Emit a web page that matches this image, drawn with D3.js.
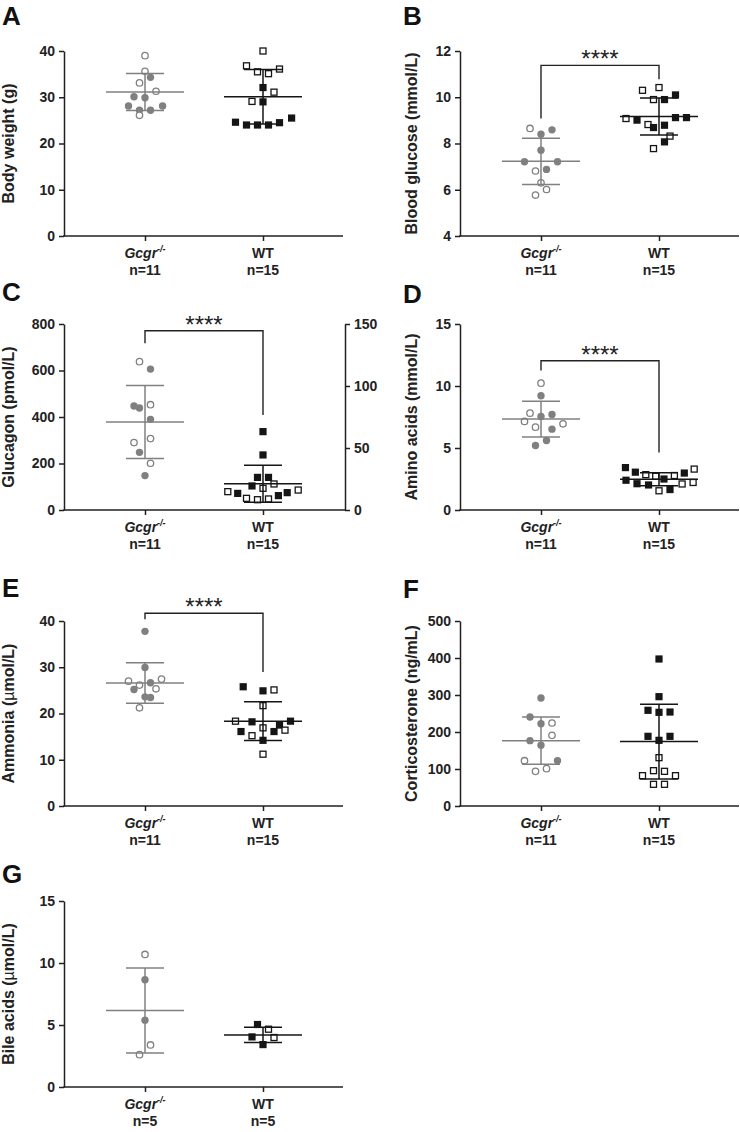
<!DOCTYPE html>
<html><head><meta charset="utf-8">
<script src="https://cdn.jsdelivr.net/npm/d3@7"></script>
<style>
body{margin:0;background:#fff}
svg{display:block}
text{font-family:"Liberation Sans",Arial,Helvetica,sans-serif}
</style>
</head><body>
<svg id="chart" width="740" height="1132"></svg>
<script>
// ---------- DATA ----------
// groups (x categories)
const groups = ["Gcgr", "WT"];
const nLabels = ["n=11", "n=15"];
const nLabelsBile = ["n=5", "n=5"];

// each point: [value, column slot, filled (1) / open (0)]
// A: Body weight (g)
const bodyWeightTicks = [0, 10, 20, 30, 40];
const bodyWeightKO = [[39.0,0,0],[35.6,0,0],[34.3,0.5,1],[33.1,-0.5,0],[30.1,-1,1],[29.9,0,1],[31.3,1,0],[28.1,-1.5,1],[27.2,-0.5,1],[27.2,0.5,1],[28.1,1.6,1],[26.1,-0.5,0]];
const bodyWeightWT = [[40.0,0,0],[36.8,-1.5,0],[35.5,-0.5,0],[35.1,0.5,0],[36.1,1.5,0],[32.1,0,1],[31.1,1,0],[29.1,-1,0],[29.0,0,1],[24.6,-2.5,1],[24.0,-1.5,1],[24.0,-0.5,1],[24.0,0.5,1],[24.5,1.5,1],[25.5,2.6,1]];
const bodyWeightMeanSD = [[31.15, 4.0], [30.1, 5.9]];

// B: Blood glucose (mmol/L)
const glucoseTicks = [4, 6, 8, 10, 12];
const glucoseKO = [[8.65,-1,0],[8.40,0,1],[8.59,1,1],[7.71,0,1],[7.21,-1.5,1],[7.21,1.5,1],[6.88,0.5,1],[6.81,-0.5,0],[6.30,0,0],[5.77,-0.5,0],[6.01,0.5,0]];
const glucoseWT = [[10.30,-1.5,0],[10.42,0,0],[9.90,-0.5,0],[9.90,0.5,1],[10.10,1.5,1],[9.08,-3,0],[9.01,-2,1],[9.12,1.5,1],[9.12,2.5,1],[8.82,-1,0],[8.69,-0.5,1],[8.79,0.5,1],[8.32,1,0],[8.07,0.5,1],[7.78,-0.5,0]];
const glucoseMeanSD = [[7.23, 1.0], [9.17, 0.8]];
const glucoseBracket = [11.38, 9.08, 10.78]; // top, left end, right end

// C: Glucagon (pmol/L) — Gcgr-/- on left axis, WT on right axis
const glucagonTicks = [0, 200, 400, 600, 800];
const glucagonRightTicks = [0, 50, 100, 150];
const glucagonKO = [[638,-0.5,0],[606,0.5,1],[447,-1,1],[439,-0.5,1],[453,0.5,0],[390,0.5,1],[307,0.5,0],[290,-1,0],[248,-0.5,1],[201,0.5,0],[148,0,1]];
const glucagonWT = [[63.2,0,1],[44.4,0,1],[26.3,-0.5,1],[26.3,0.5,1],[19.4,-1,1],[21.0,1,0],[17.5,0,0],[14.8,-3.2,0],[13.4,-2.3,1],[9.4,-1.5,0],[8.3,-0.5,0],[8.9,0.5,0],[11.6,1.4,1],[14.0,2.2,1],[16.1,3.2,0]];
const glucagonMeanSD = [[378, 157], [21.2, 14.9]];
const glucagonBracket = [771, 717, 409];

// D: Amino acids (mmol/L)
const aminoTicks = [0, 5, 10, 15];
const aminoKO = [[10.23,0,0],[9.21,0,1],[7.81,-1,0],[7.54,0,1],[7.70,1,1],[7.14,-1.5,0],[6.95,2,0],[6.68,-0.5,0],[6.52,1,1],[5.60,0.5,1],[5.20,-0.5,1]];
const aminoWT = [[3.42,-3.05,1],[3.05,-2.15,1],[2.85,-1.2,0],[2.72,-0.3,0],[2.78,1.4,0],[2.98,2.3,1],[3.30,3.2,0],[2.40,-3,1],[2.12,-2,1],[2.02,-0.95,1],[2.50,0.45,1],[1.55,0,0],[1.65,1,1],[2.10,2.1,0],[2.22,3.1,0]];
const aminoMeanSD = [[7.33, 1.44], [2.48, 0.52]];
const aminoBracket = [12.04, 11.26, 4.63];

// E: Ammonia (µmol/L)
const ammoniaTicks = [0, 10, 20, 30, 40];
const ammoniaKO = [[37.76,0,1],[29.96,0,1],[27.0,-1.5,0],[26.14,-0.5,0],[26.64,0.5,1],[27.44,1.5,0],[25.2,-1,1],[25.34,1,0],[23.6,0,1],[23.47,0.5,1],[21.23,-0.5,0]];
const ammoniaWT = [[25.78,-1.8,1],[24.9,0,1],[25.1,1,0],[21.7,0,0],[18.34,-2.5,0],[18.2,-1,1],[17.5,1.5,1],[18.34,2.5,1],[16.9,0,0],[16.1,-2,1],[15.2,-1,0],[16.1,1,1],[16.4,2,0],[14.2,0,1],[11.2,0,0]];
const ammoniaMeanSD = [[26.6, 4.4], [18.34, 4.2]];
const ammoniaBracket = [41.66, 40.36, 29.0];

// F: Corticosterone (ng/mL)
const corticoTicks = [0, 100, 200, 300, 400, 500];
const corticoKO = [[291.9,0,1],[240.5,-1,1],[222.5,0,1],[224.3,1,0],[191,1,0],[176.6,-1,1],[164,0,1],[122.5,-1.5,0],[122.5,1.5,1],[93.7,-0.5,0],[100.9,0.5,0]];
const corticoWT = [[397.3,0,1],[295.5,0,1],[258.6,-1,1],[253.2,0,1],[254,1,1],[188.3,-1,1],[188.3,1,1],[177.5,0,1],[130.6,0,0],[95.5,-0.5,0],[93.7,0.5,0],[82,-1.5,0],[82,1.5,0],[58.6,-0.5,0],[58.6,0.5,0]];
const corticoMeanSD = [[176.6, 64], [174, 101]];

// G: Bile acids (µmol/L)
const bileTicks = [0, 5, 10, 15];
const bileKO = [[10.69,0,0],[8.65,0,1],[5.39,0,1],[3.39,0.5,0],[2.61,-0.5,0]];
const bileWT = [[5.04,-0.5,1],[4.66,0.5,0],[4.04,-1,1],[3.99,1,0],[3.42,0,1]];
const bileMeanSD = [[6.17, 3.43], [4.20, 0.61]];

// ---------- DRAWING ----------
const svg = d3.select("#chart");
const GRAY = "#808080", BLACK = "#151515", AXIS = "#231f20";
const SLOT = 11, R = 3.7, SQ = 7.2, MEANW = 39, CAPW = 19;

function styleAxis(a) {
  a.select(".domain").attr("stroke", AXIS).attr("stroke-width", 1.5);
  a.selectAll(".tick line").attr("stroke", AXIS).attr("stroke-width", 1.5);
  a.selectAll(".tick text").attr("font-size", 14).attr("font-weight", "bold").attr("fill", "#222")
    .attr("font-family", "Liberation Sans, Arial, sans-serif");
}

function drawPanel(c) {
  const g = svg.append("g");
  const x = d3.scalePoint().domain(groups).range([c.x0 + 81, c.x0 + 199]);
  const y = d3.scaleLinear().domain([c.ticks[0], c.ticks[c.ticks.length - 1]]).range([c.yBot, c.yTop]);
  const yW = c.rightTicks ? d3.scaleLinear().domain([0, c.rightTicks[c.rightTicks.length - 1]]).range([c.yBot, c.yTop]) : y;

  // panel letter
  g.append("text").attr("x", c.lx).attr("y", c.ly).text(c.letter)
    .attr("font-size", 26).attr("font-weight", "bold").attr("fill", "#111");

  // y axis
  const ya = g.append("g").attr("transform", `translate(${c.x0},0)`)
    .call(d3.axisLeft(y).tickValues(c.ticks).tickSize(5).tickSizeOuter(0).tickPadding(4));
  styleAxis(ya);

  if (c.rightTicks) {
    const ra = g.append("g").attr("transform", `translate(${c.x1},0)`)
      .call(d3.axisRight(yW).tickValues(c.rightTicks).tickSize(5).tickSizeOuter(0).tickPadding(4));
    styleAxis(ra);
  }

  // x axis
  g.append("line").attr("x1", c.x0 - 0.75).attr("x2", c.x1).attr("y1", c.yBot).attr("y2", c.yBot)
    .attr("stroke", AXIS).attr("stroke-width", 1.5);
  const xa = g.append("g").attr("transform", `translate(0,${c.yBot})`)
    .call(d3.axisBottom(x).tickSize(5).tickSizeOuter(0).tickFormat(""));
  xa.select(".domain").remove();
  xa.selectAll(".tick line").attr("stroke", AXIS).attr("stroke-width", 1.5);

  // category labels
  const kl = g.append("text").attr("x", x(groups[0])).attr("y", c.yBot + 22)
    .attr("text-anchor", "middle").attr("font-size", 14).attr("font-weight", "bold").attr("fill", "#222");
  kl.append("tspan").attr("font-style", "italic").text(groups[0]);
  kl.append("tspan").attr("font-size", 9).attr("dy", -6).attr("font-style", "italic").text("-/-");
  g.append("text").attr("x", x(groups[1])).attr("y", c.yBot + 22).attr("text-anchor", "middle")
    .attr("font-size", 14).attr("font-weight", "bold").attr("fill", "#222").text(groups[1]);
  c.n.forEach((t, i) => {
    g.append("text").attr("x", x(groups[i])).attr("y", c.yBot + 39).attr("text-anchor", "middle")
      .attr("font-size", 14).attr("font-weight", "bold").attr("fill", "#222").text(t);
  });

  // y label
  const yl = g.append("text").attr("transform", `translate(${c.ylx},${(c.yTop + c.yBot) / 2}) rotate(-90)`)
    .attr("text-anchor", "middle").attr("font-size", 16).attr("font-weight", "bold").attr("fill", "#222");
  c.ylabel.forEach(p => {
    const t = yl.append("tspan").text(p[0]);
    if (p[1]) t.attr("font-weight", "normal");
  });

  // points
  const cxK = x(groups[0]), cxW = x(groups[1]);
  g.selectAll(null).data(c.ko).enter().append("circle")
    .attr("cx", d => cxK + d[1] * SLOT).attr("cy", d => y(d[0])).attr("r", d => d[2] ? R : R - 0.5)
    .attr("fill", d => d[2] ? GRAY : "#fff").attr("stroke", GRAY).attr("stroke-width", d => d[2] ? 0 : 1.3);
  g.selectAll(null).data(c.wt).enter().append("rect")
    .attr("x", d => cxW + d[1] * SLOT - SQ / 2 + (d[2] ? 0 : 0.6)).attr("y", d => yW(d[0]) - SQ / 2 + (d[2] ? 0 : 0.6))
    .attr("width", d => d[2] ? SQ : SQ - 1.2).attr("height", d => d[2] ? SQ : SQ - 1.2)
    .attr("fill", d => d[2] ? BLACK : "#fff").attr("stroke", BLACK).attr("stroke-width", d => d[2] ? 0 : 1.3);

  // mean ± SD
  [[cxK, y, c.stats[0], GRAY], [cxW, yW, c.stats[1], BLACK]].forEach(([cx, sc, s, col]) => {
    const [m, sd] = s;
    const lines = [
      [cx, sc(m + sd), cx, sc(m - sd)],
      [cx - MEANW, sc(m), cx + MEANW, sc(m)],
      [cx - CAPW, sc(m + sd), cx + CAPW, sc(m + sd)],
      [cx - CAPW, sc(m - sd), cx + CAPW, sc(m - sd)]
    ];
    g.selectAll(null).data(lines).enter().append("line")
      .attr("x1", d => d[0]).attr("y1", d => d[1]).attr("x2", d => d[2]).attr("y2", d => d[3])
      .attr("stroke", col).attr("stroke-width", 1.5);
  });

  // significance bracket
  if (c.bracket) {
    const [top, l, r] = c.bracket;
    const path = d3.path();
    path.moveTo(cxK, y(l)); path.lineTo(cxK, y(top)); path.lineTo(cxW, y(top)); path.lineTo(cxW, y(r));
    g.append("path").attr("d", path.toString()).attr("fill", "none").attr("stroke", "#222").attr("stroke-width", 1.4);
    g.append("text").attr("x", (cxK + cxW) / 2).attr("y", y(top) + 2).attr("text-anchor", "middle")
      .attr("font-size", 24).attr("fill", "#222").text("****");
  }
}

const L = {x0: 64, x1: 343, lx: 2, ylx: 14};
const Rt = {x0: 460, x1: 739, lx: 403, ylx: 417};

drawPanel({...L, letter: "A", ly: 25, yTop: 51, yBot: 236, ticks: bodyWeightTicks, ko: bodyWeightKO, wt: bodyWeightWT,
  stats: bodyWeightMeanSD, n: nLabels, ylabel: [["Body weight (g)"]]});
drawPanel({...Rt, letter: "B", ly: 25, yTop: 51, yBot: 236, ticks: glucoseTicks, ko: glucoseKO, wt: glucoseWT,
  stats: glucoseMeanSD, n: nLabels, bracket: glucoseBracket, ylabel: [["Blood glucose (mmol/L)"]]});
drawPanel({...L, x1: 345, letter: "C", ly: 301, yTop: 324, yBot: 510, ticks: glucagonTicks, rightTicks: glucagonRightTicks,
  ko: glucagonKO, wt: glucagonWT, stats: glucagonMeanSD, n: nLabels, bracket: glucagonBracket, ylabel: [["Glucagon (pmol/L)"]]});
drawPanel({...Rt, letter: "D", ly: 303, yTop: 324, yBot: 510, ticks: aminoTicks, ko: aminoKO, wt: aminoWT,
  stats: aminoMeanSD, n: nLabels, bracket: aminoBracket, ylabel: [["Amino acids (mmol/L)"]]});
drawPanel({...L, letter: "E", ly: 597, yTop: 621, yBot: 806, ticks: ammoniaTicks, ko: ammoniaKO, wt: ammoniaWT,
  stats: ammoniaMeanSD, n: nLabels, bracket: ammoniaBracket, ylabel: [["Ammonia ("], ["µ", 1], ["mol/L)"]]});
drawPanel({...Rt, letter: "F", ly: 598, yTop: 621, yBot: 806, ticks: corticoTicks, ko: corticoKO, wt: corticoWT,
  stats: corticoMeanSD, n: nLabels, ylabel: [["Corticosterone (ng/mL)"]]});
drawPanel({...L, letter: "G", ly: 883, yTop: 901, yBot: 1087, ticks: bileTicks, ko: bileKO, wt: bileWT,
  stats: bileMeanSD, n: nLabelsBile, ylabel: [["Bile acids ("], ["µ", 1], ["mol/L)"]]});
</script>
</body></html>
